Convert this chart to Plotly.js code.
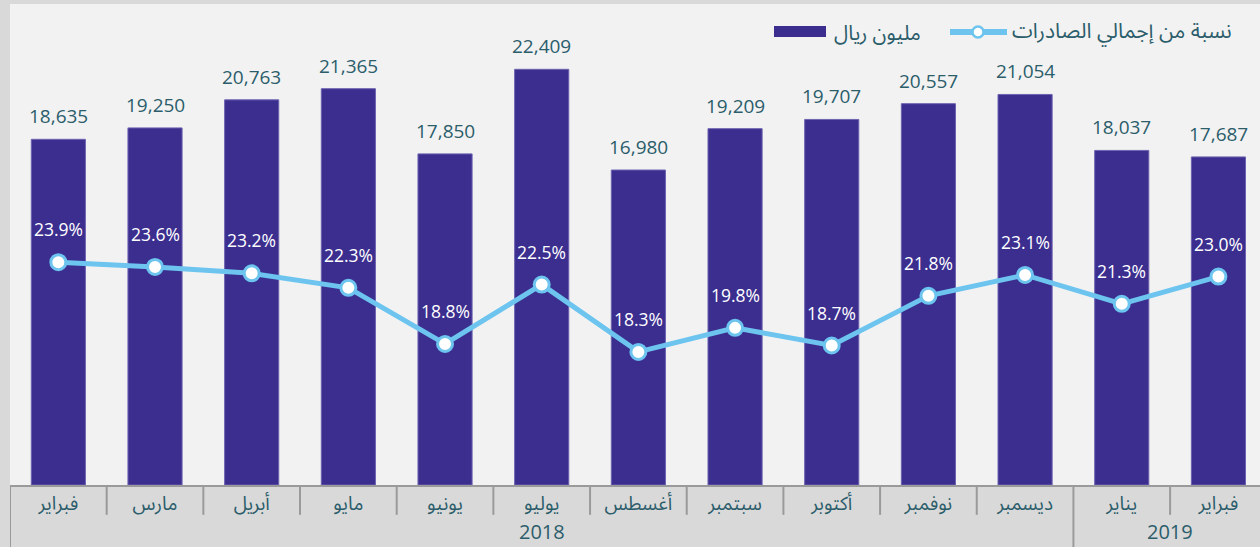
<!DOCTYPE html>
<html>
<head>
<meta charset="utf-8">
<script src="https://cdn.plot.ly/plotly-3.0.1.min.js"></script>
<style>html,body{margin:0;padding:0;background:#d9d9d9;}#chart{width:1260px;height:547px;}</style>
</head>
<body>
<div id="chart"></div>
<script>
// ---- data ----
const months = ["فبراير","مارس","أبريل","مايو","يونيو","يوليو","أغسطس","سبتمبر","أكتوبر","نوفمبر","ديسمبر","يناير","فبراير"];
const years = ["2018","2018","2018","2018","2018","2018","2018","2018","2018","2018","2018","2019","2019"];
const valuesMillionSAR = [18635,19250,20763,21365,17850,22409,16980,19209,19707,20557,21054,18037,17687];
const shareOfExports = [23.9,23.6,23.2,22.3,18.8,22.5,18.3,19.8,18.7,21.8,23.1,21.3,23.0];
const seriesNames = {bar: "مليون ريال", line: "نسبة من إجمالي الصادرات"};

// ---- style ----
const TEXT = "#2b5d6b";
const BAR = "#3b2e8f";
const LINE = "#6cc4ef";
const FONT = "Open Sans, Noto Sans, Noto Sans Arabic, DejaVu Sans, sans-serif";

const idx = months.map((_, i) => i);

const barTrace = {
  type: "bar", x: idx, y: valuesMillionSAR, name: seriesNames.bar,
  marker: {color: BAR, line: {color: "#6c63b0", width: 1}},
  width: 0.56, hoverinfo: "skip", showlegend: false
};
const lineTrace = {
  type: "scatter", mode: "lines+markers", x: idx, y: shareOfExports, yaxis: "y2",
  name: seriesNames.line,
  line: {color: LINE, width: 5},
  marker: {size: 15, color: "#ffffff", line: {color: LINE, width: 3}},
  hoverinfo: "skip", showlegend: false, cliponaxis: false
};

const annotations = [];
valuesMillionSAR.forEach((v, i) => annotations.push({
  x: i, y: v, xref: "x", yref: "y", text: v.toLocaleString("en-US"),
  showarrow: false, yanchor: "middle", yshift: 23,
  font: {family: FONT, size: 19, color: TEXT}
}));
shareOfExports.forEach((v, i) => annotations.push({
  x: i, y: v, xref: "x", yref: "y2", text: v.toFixed(1) + "%",
  showarrow: false, yanchor: "middle", yshift: 33,
  font: {family: FONT, size: 17.5, color: "#ffffff"}
}));
// year group labels centred on their months
const yearGroups = [...new Set(years)];
yearGroups.forEach(yr => {
  const ids = idx.filter(i => years[i] === yr);
  const c = (ids[0] + ids[ids.length - 1]) / 2;
  annotations.push({x: c, y: -0.097, xref: "x", yref: "paper", text: yr, showarrow: false,
    yanchor: "middle", font: {family: FONT, size: 20, color: TEXT}});
});
// legend texts
annotations.push({x: 0.6576, y: 0.942, xref: "paper", yref: "paper", text: seriesNames.bar,
  showarrow: false, xanchor: "left", yanchor: "middle", font: {family: FONT, size: 20.5, color: TEXT}});
annotations.push({x: 0.8, y: 0.942, xref: "paper", yref: "paper", text: seriesNames.line,
  showarrow: false, xanchor: "left", yanchor: "middle", font: {family: FONT, size: 21, color: TEXT}});

const shapes = [];
// dividers between months / year groups
const divColor = "#9a9a9a";
shapes.push({type: "line", xref: "x", yref: "paper", x0: -0.5, x1: -0.5, y0: 0, y1: -0.14,
  line: {color: divColor, width: 2}});
for (let i = 0; i < months.length - 1; i++) {
  const yearBreak = years[i] !== years[i + 1];
  shapes.push({type: "line", xref: "x", yref: "paper", x0: i + 0.5, x1: i + 0.5, y0: 0,
    y1: yearBreak ? -0.14 : -0.062, line: {color: divColor, width: 2}});
}
// legend symbols
shapes.push({type: "rect", xref: "paper", yref: "paper", x0: 0.6112, x1: 0.6528, y0: 0.9314, y1: 0.9543,
  fillcolor: BAR, line: {width: 0}});
shapes.push({type: "line", xref: "paper", yref: "paper", x0: 0.752, x1: 0.7976, y0: 0.942, y1: 0.942,
  line: {color: LINE, width: 6}});
shapes.push({type: "circle", xref: "paper", yref: "paper", xsizemode: "pixel", ysizemode: "pixel",
  xanchor: 0.7744, yanchor: 0.942, x0: -5.5, x1: 5.5, y0: -5.5, y1: 5.5,
  fillcolor: "#ffffff", line: {color: LINE, width: 2.5}});

const layout = {
  width: 1260, height: 547,
  margin: {l: 10, r: 0, t: 4, b: 62},
  paper_bgcolor: "#d9d9d9", plot_bgcolor: "#f2f2f2",
  font: {family: FONT, color: TEXT},
  showlegend: false, bargap: 0.44,
  xaxis: {
    range: [-0.5, 12.43], tickmode: "array", tickvals: idx, ticktext: months,
    tickfont: {family: FONT, size: 19, color: TEXT},
    ticks: "",
    showline: true, linecolor: divColor, linewidth: 2, showgrid: false, zeroline: false, fixedrange: true
  },
  yaxis: {range: [0, 25930], showticklabels: false, showgrid: false, zeroline: false, fixedrange: true},
  yaxis2: {range: [10, 40], overlaying: "y", side: "right", showticklabels: false, showgrid: false,
    zeroline: false, fixedrange: true},
  annotations: annotations, shapes: shapes
};

Plotly.newPlot("chart", [barTrace, lineTrace], layout, {staticPlot: true, displayModeBar: false});
</script>
</body>
</html>
